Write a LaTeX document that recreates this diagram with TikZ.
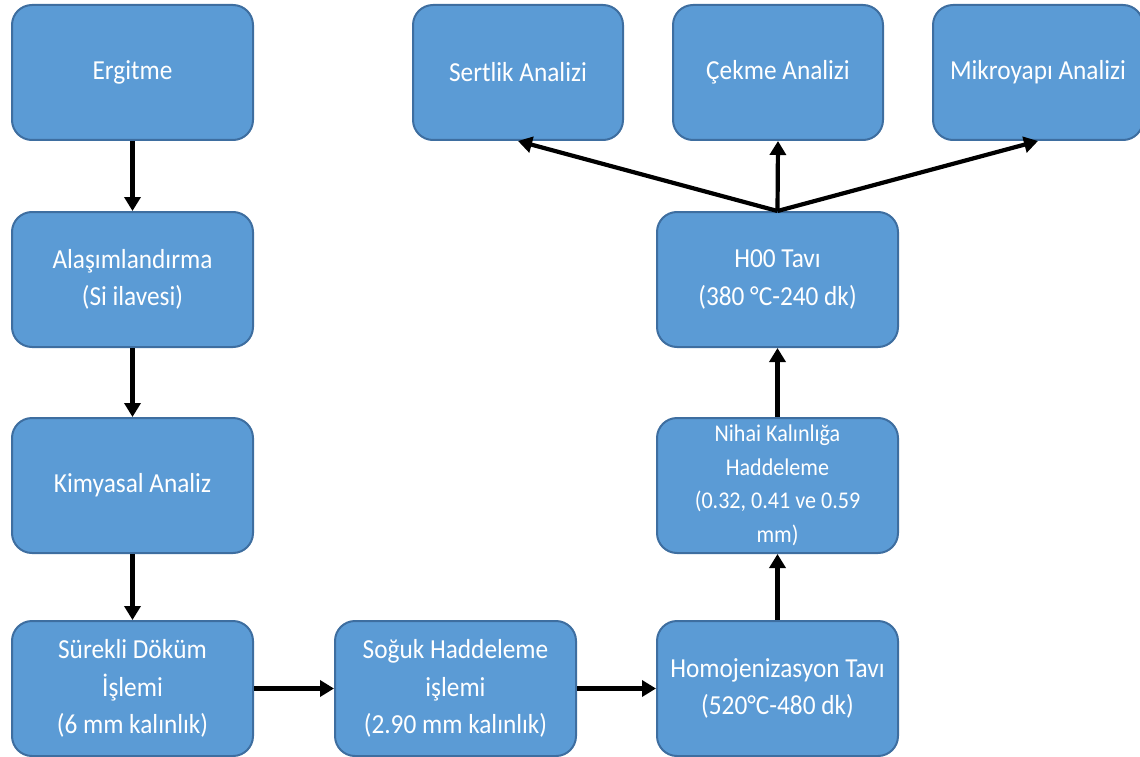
\documentclass[tikz,border=0pt]{standalone}
\usepackage{fontspec}
\setmainfont{Carlito}[FakeStretch=0.92]
\usetikzlibrary{arrows.meta}
\definecolor{boxfill}{RGB}{91,155,213}
\definecolor{boxline}{RGB}{62,110,160}
\begin{document}
\begin{tikzpicture}[x=1pt,y=-1pt,
  box/.style={draw=boxline, line width=2pt, fill=boxfill, rounded corners=20pt,
    text=white, align=center, font=\fontsize{27.5}{37.5}\selectfont, inner sep=0pt},
  big/.style={box, minimum width=241pt, minimum height=135pt},
  topbox/.style={box, minimum width=210pt, minimum height=135pt},
  arr/.style={line width=4.2pt, -{Triangle[length=14pt,width=16pt]}}]
\useasboundingbox (0,0) rectangle (1140,757);
\node[big] (erg) at (132.5,72.5) {Ergitme};
\node[big] (ala) at (132.5,279.5) {Alaşımlandırma\\(Si ilavesi)};
\node[big] (kim) at (132.5,485.5) {Kimyasal Analiz};
\node[big] (sur) at (132.5,688.5) {Sürekli Döküm\\İşlemi\\(6 mm kalınlık)};
\node[big] (sog) at (455.5,688.5) {Soğuk Haddeleme\\işlemi\\(2.90 mm kalınlık)};
\node[big] (hom) at (777.5,688.5) {Homojenizasyon Tavı\\(520°C-480 dk)};
\node[big,font=\fontsize{24}{33.5}\selectfont] (nih) at (777.5,485.5) {Nihai Kalınlığa\\Haddeleme\\(0.32, 0.41 ve 0.59\\mm)};
\node[big] (h00) at (777.5,279.5) {H00 Tavı\\(380 °C-240 dk)};
\node[topbox] (ser) at (518,72.5) {Sertlik Analizi};
\node[topbox] (cek) at (778,72.5) {Çekme Analizi};
\node[topbox] (mik) at (1038,72.5) {Mikroyapı Analizi};
\draw[arr] (erg) -- (ala);
\draw[arr] (ala) -- (kim);
\draw[arr] (kim) -- (sur);
\draw[arr] (sur) -- (sog);
\draw[arr] (sog) -- (hom);
\draw[arr] (hom) -- (nih);
\draw[arr] (nih) -- (h00);
\draw[arr] (h00.north) -- (ser.south);
\draw[arr] (h00.north) -- (cek.south);
\draw[arr] (h00.north) -- (mik.south);
\end{tikzpicture}
\end{document}
